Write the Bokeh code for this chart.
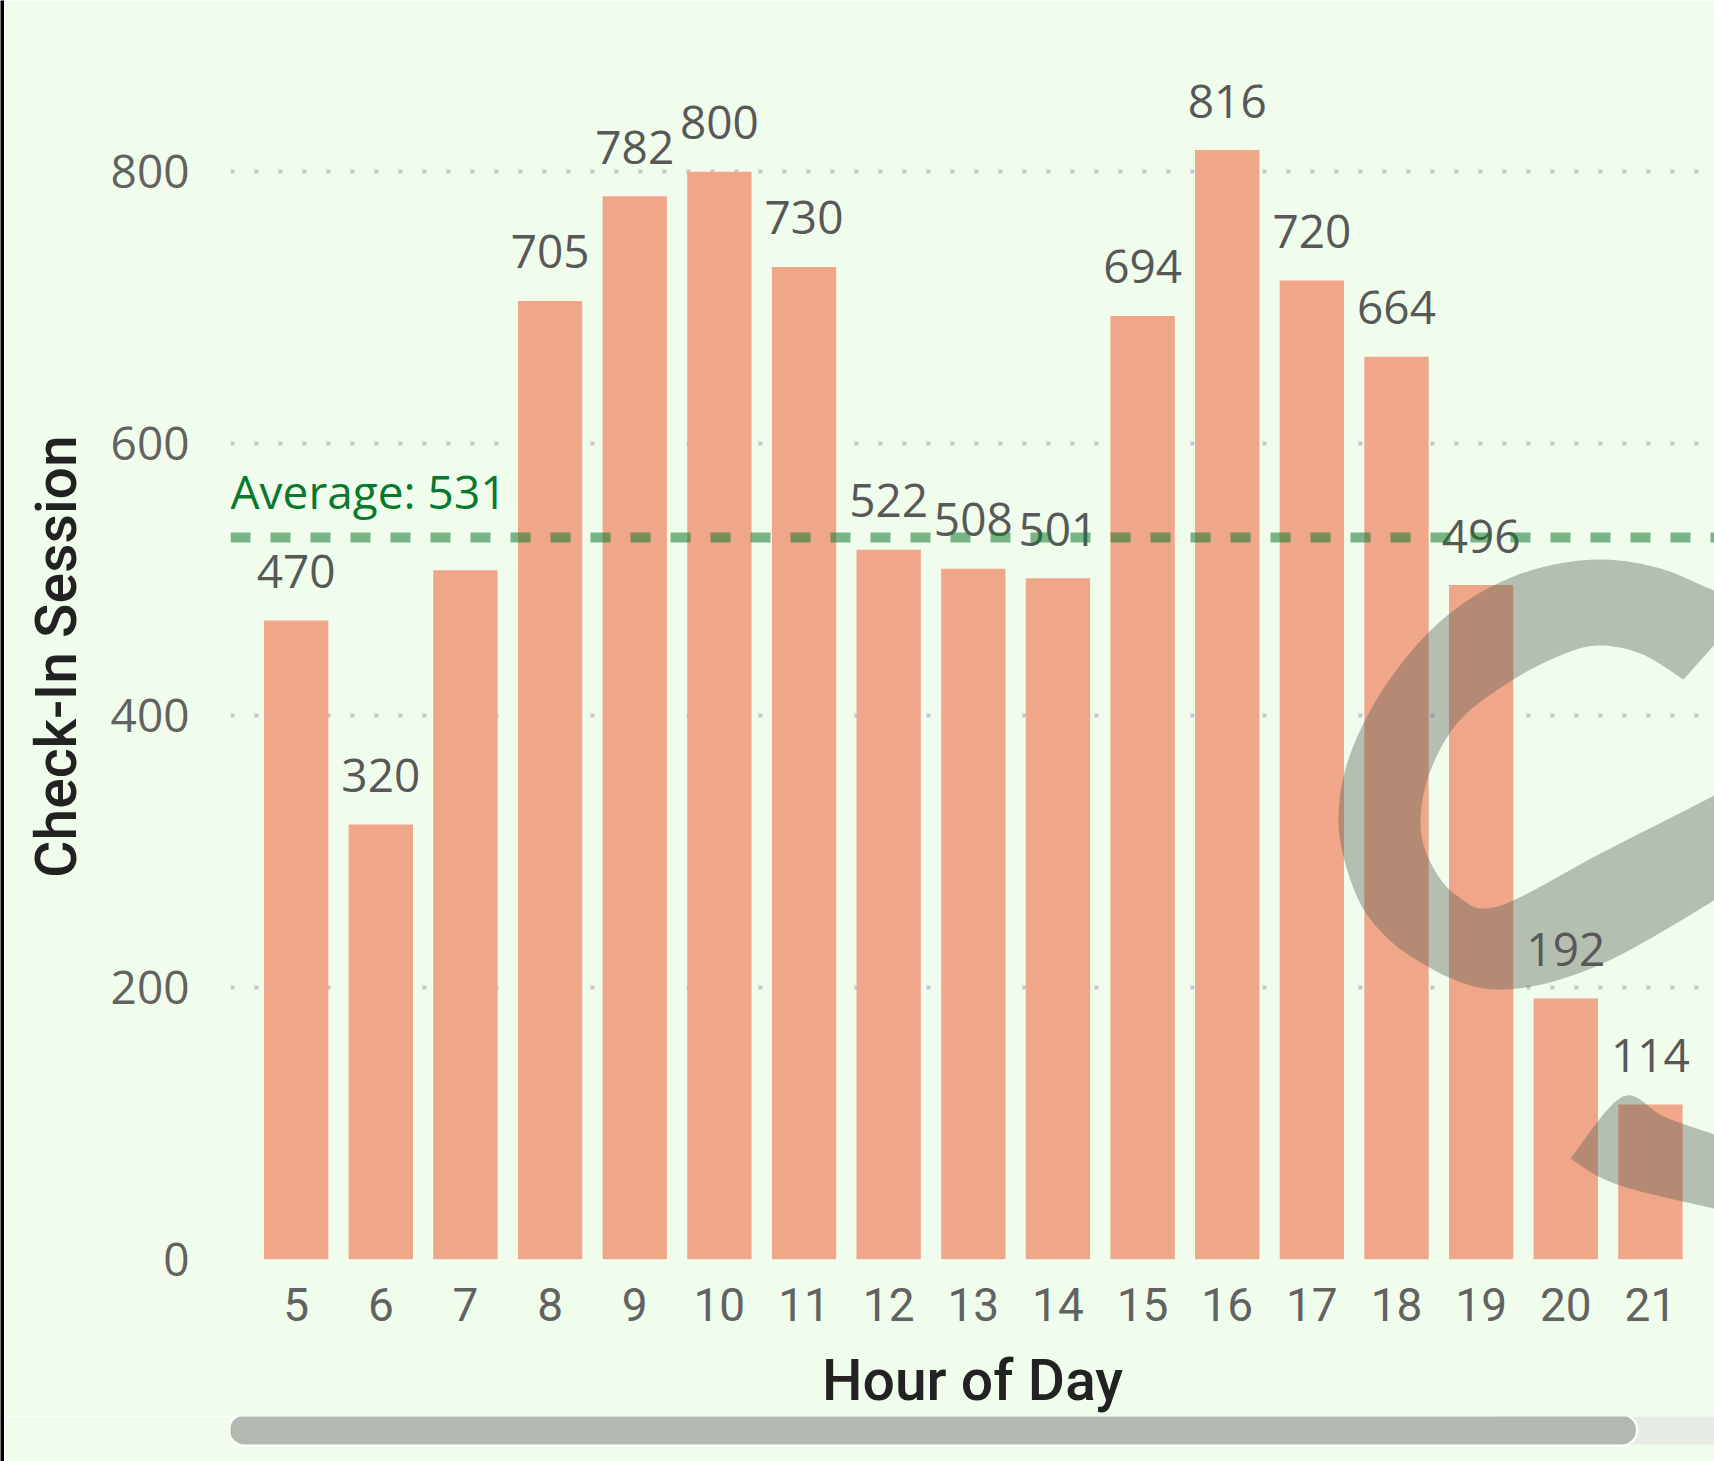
from bokeh.plotting import figure
from bokeh.layouts import column, row
from bokeh.models import Range1d, FixedTicker, Label, Span, ColumnDataSource
from bokeh.core.properties import value
from bokeh.embed import file_html
from bokeh.resources import INLINE

# ---------------- data ----------------
HOURS = [5, 6, 7, 8, 9, 10, 11, 12, 13, 14, 15, 16, 17, 18, 19, 20, 21]
SESSIONS = [470, 320, 507, 705, 782, 800, 730, 522, 508, 501, 694, 816, 720, 664, 496, 192, 114]
LABEL_HIDDEN = [7]          # label of hour 7 is hidden behind the average caption
AVERAGE = 531
Y_TICKS = [0, 200, 400, 600, 800]
X_TITLE = "Hour of Day"
Y_TITLE = "Check-In Session"

# ---------------- style ----------------
BG = "#f1fdec"
BAR = "#f0a688"
AVG_COLOR = "#147832"
AVG_TEXT = "#08792f"
TICK_COLOR = "#626262"
VAL_COLOR = "#585858"
TITLE_COLOR = "#222222"
TITLE_FONT = "Roboto Medium, Roboto"

STRIP = 4                   # dark strip at the left edge of the page
W, H = 1710, 1416
LEFT, TOP, BOTTOM = 226, 53, 157
X_START, X_END = 4.224, 21.757
Y_END = 887.0
PXX = (W - LEFT) / (X_END - X_START)
PXY = (H - TOP - BOTTOM) / Y_END

p = figure(width=W, height=H, x_range=Range1d(X_START, X_END), y_range=Range1d(0, Y_END),
           output_backend="svg", toolbar_location=None,
           min_border_left=LEFT, min_border_right=0, min_border_top=TOP, min_border_bottom=BOTTOM,
           background_fill_color=BG, border_fill_color=BG, outline_line_color=None)

p.xgrid.visible = False
p.ygrid.grid_line_color = "#c9c5c9"
p.ygrid.grid_line_width = 4
p.ygrid.grid_line_dash = "4 20"

for ax in (p.xaxis[0], p.yaxis[0]):
    ax.axis_line_color = None
    ax.major_tick_line_color = None
    ax.minor_tick_line_color = None
    ax.major_tick_out = 0
    ax.major_tick_in = 0
    ax.major_label_text_color = TICK_COLOR
    ax.major_label_text_font_size = "46px"
    ax.axis_label_text_color = TITLE_COLOR
    ax.axis_label_text_font = TITLE_FONT
    ax.axis_label_text_font_style = "normal"
    ax.axis_label_text_font_size = "57px"

p.xaxis.ticker = FixedTicker(ticks=HOURS)
p.yaxis.ticker = FixedTicker(ticks=Y_TICKS)
p.xaxis.major_label_text_font = "Roboto"
p.yaxis.major_label_text_font = "Open Sans"
p.xaxis.major_label_standoff = 28
p.yaxis.major_label_standoff = 41
p.xaxis.axis_label = X_TITLE
p.yaxis.axis_label = Y_TITLE
p.xaxis.axis_label_standoff = 23
p.yaxis.axis_label_standoff = 18

src = ColumnDataSource(dict(x=HOURS, top=SESSIONS))
p.vbar(x="x", top="top", width=0.76, source=src, fill_color=BAR, line_color=None)

p.add_layout(Span(location=AVERAGE, dimension="width", line_color=AVG_COLOR, line_alpha=0.55,
                  line_width=10, line_dash="20 20"))
p.add_layout(Label(x=X_START, y=AVERAGE, y_offset=47, text=f"Average: {AVERAGE}",
                   text_font="Open Sans", text_font_size="46px", text_color=AVG_TEXT,
                   text_align="left", text_baseline="alphabetic"))


# ---------------- watermark (decorative glyph, outline given in page pixels) ----------------
def wx(px):
    return X_START + (px - (STRIP + LEFT)) / PXX


def wy(py):
    return (H - BOTTOM - py) / PXY


def smooth(pts, n=12):
    out = []
    P = [pts[0]] + list(pts) + [pts[-1]]
    for i in range(1, len(P) - 2):
        p0, p1, p2, p3 = P[i - 1], P[i], P[i + 1], P[i + 2]
        for k in range(n):
            t = k / n
            t2, t3 = t * t, t * t * t
            out.append(tuple(0.5 * ((2 * p1[j]) + (-p0[j] + p2[j]) * t +
                                    (2 * p0[j] - 5 * p1[j] + 4 * p2[j] - p3[j]) * t2 +
                                    (-p0[j] + 3 * p1[j] - 3 * p2[j] + p3[j]) * t3) for j in range(2)))
    out.append(pts[-1])
    return out


OUTER = [(1740, 594), (1714, 590), (1660, 568), (1600, 559), (1537, 568), (1480, 592), (1430, 630),
         (1385, 685), (1353, 745), (1339, 800), (1342, 852), (1367, 915), (1420, 962), (1497, 989),
         (1600, 964), (1740, 884)]
INNER = [(1740, 782), (1714, 795), (1600, 853), (1497, 906), (1455, 894), (1429, 860), (1420, 821),
         (1430, 770), (1460, 719), (1513, 679), (1560, 655), (1597, 645), (1640, 653), (1683, 679)]
CUT = [(1740, 615)]
TAIL_UP = [(1570, 1158), (1622, 1096), (1663, 1116), (1714, 1134), (1745, 1144)]
TAIL_LOW = [(1745, 1214), (1714, 1208), (1640, 1191), (1600, 1177), (1570, 1158)]

loop = smooth(OUTER) + smooth(INNER) + CUT
tail = smooth(TAIL_UP, 6) + smooth(TAIL_LOW, 6)
p.patches(xs=[[wx(a) for a, b in loop], [wx(a) for a, b in tail]],
          ys=[[wy(b) for a, b in loop], [wy(b) for a, b in tail]],
          fill_color="#5a625b", fill_alpha=0.4, line_color=None)

# ---------------- value labels ----------------
lab_x = [h for h in HOURS if h not in LABEL_HIDDEN]
lab_y = [v for h, v in zip(HOURS, SESSIONS) if h not in LABEL_HIDDEN]
p.text(x=lab_x, y=lab_y, text=[str(v) for v in lab_y], y_offset=-49,
       text_font=value("Open Sans"), text_font_size="46px", text_color=VAL_COLOR,
       text_align="center", text_baseline="middle")

# ---------------- scrollbar strip ----------------
SB_H = 45
SB_Y = 31.5
sb = figure(width=W, height=SB_H, x_range=Range1d(X_START, X_END), y_range=Range1d(0, SB_H),
            output_backend="svg", toolbar_location=None,
            min_border_left=LEFT, min_border_right=0, min_border_top=0, min_border_bottom=0,
            background_fill_color=BG, border_fill_color=BG, outline_line_color=None)
sb.axis.visible = False
sb.grid.visible = False
sb.line(x=[wx(1500), wx(1760)], y=[SB_Y, SB_Y], line_width=29, line_color="#e6ece4", line_cap="round")
sb.line(x=[wx(244), wx(1621)], y=[SB_Y, SB_Y], line_width=34, line_color="white", line_cap="round")
sb.line(x=[wx(244), wx(1621)], y=[SB_Y, SB_Y], line_width=29, line_color="#b3b8b1", line_cap="round")

# dark strip at left edge
strip = figure(width=STRIP, height=H + SB_H, output_backend="svg", toolbar_location=None,
               min_border=0, background_fill_color="black", border_fill_color="black",
               outline_line_color=None)
strip.axis.visible = False
strip.grid.visible = False

layout = row(strip, column(p, sb, spacing=0), spacing=0)
open("out.html", "w").write(file_html(layout, INLINE))
